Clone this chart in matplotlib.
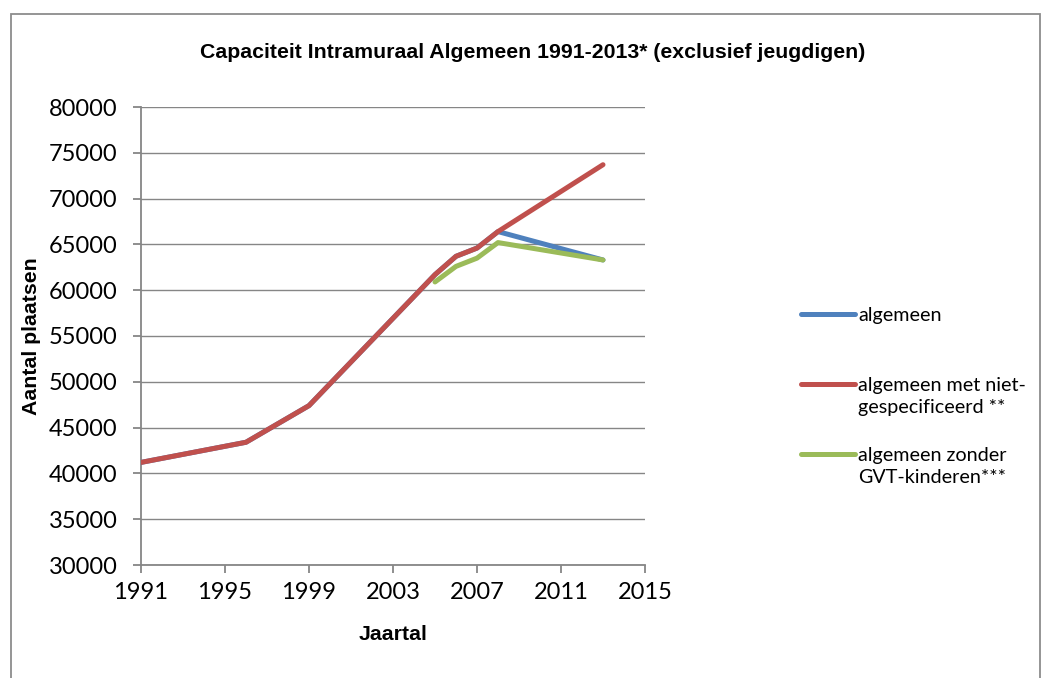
import matplotlib
matplotlib.use("Agg")
import matplotlib.pyplot as plt
from matplotlib.lines import Line2D
from matplotlib.patches import Rectangle

# ---- data ----
years_all = [1991, 1996, 1999, 2005, 2006, 2007, 2008, 2013]
algemeen = [41200, 43400, 47400, 61700, 63700, 64600, 66400, 63300]
algemeen_niet_spec = [41200, 43400, 47400, 61700, 63700, 64600, 66400, 73700]
years_gvt = [2005, 2006, 2007, 2008, 2013]
algemeen_zonder_gvt = [60900, 62600, 63500, 65200, 63300]

series_labels = ["algemeen", "algemeen met niet-\ngespecificeerd **",
                 "algemeen zonder\nGVT-kinderen***"]
colors = ["#4F81BD", "#C0504D", "#9BBB59"]
x_ticks = [1991, 1995, 1999, 2003, 2007, 2011, 2015]
y_ticks = list(range(30000, 80001, 5000))

W, H = 1043, 678
fig = plt.figure(figsize=(W / 100, H / 100), dpi=100)
fig.patch.set_facecolor("white")

# outer border
fig.add_artist(Rectangle((11 / W, -0.05), (1040 - 11) / W, (H - 14) / H + 0.05,
                         transform=fig.transFigure, fill=False,
                         edgecolor="#8C8C8C", linewidth=1.3))

ax = fig.add_axes([141 / W, (H - 565) / H, 504 / W, 458 / H])
ax.plot(years_all, algemeen, color=colors[0], lw=3.6, solid_capstyle="round",
        solid_joinstyle="round", zorder=3)
ax.plot(years_all, algemeen_niet_spec, color=colors[1], lw=3.6,
        solid_capstyle="round", solid_joinstyle="round", zorder=4)
ax.plot(years_gvt, algemeen_zonder_gvt, color=colors[2], lw=3.6,
        solid_capstyle="round", solid_joinstyle="round", zorder=5)

ax.set_xlim(1991, 2015)
ax.set_ylim(30000, 80000)
ax.set_xticks(x_ticks)
ax.set_yticks(y_ticks)
ax.grid(axis="y", color="#868686", lw=1.0)
ax.set_axisbelow(True)
for s in ["top", "right"]:
    ax.spines[s].set_visible(False)
for s in ["left", "bottom"]:
    ax.spines[s].set_color("#868686")
    ax.spines[s].set_linewidth(1.3)
ax.tick_params(axis="both", direction="out", length=6, width=1.3,
               color="#868686", labelcolor="black")
ax.tick_params(axis="y", pad=11)
ax.tick_params(axis="x", pad=6)
for lab in ax.get_xticklabels() + ax.get_yticklabels():
    lab.set_fontfamily("Lato")
    lab.set_fontsize(17)

fig.text(533 / W, 1 - 52 / H,
         "Capaciteit Intramuraal Algemeen 1991-2013* (exclusief jeugdigen)",
         ha="center", va="center", family="Liberation Sans",
         fontweight="bold", fontsize=15.3)
fig.text(32 / W, 1 - 336 / H, "Aantal plaatsen", rotation=90, ha="center",
         va="center", family="Liberation Sans", fontweight="bold", fontsize=15.3)
fig.text(393 / W, 1 - 634 / H, "Jaartal", ha="center", va="center",
         family="Liberation Sans", fontweight="bold", fontsize=15.3)

# legend
leg_y = [314, 384, 454]
for c, lbl, y in zip(colors, series_labels, leg_y):
    fig.add_artist(Line2D([801 / W, 855 / W], [1 - y / H, 1 - y / H],
                          transform=fig.transFigure, color=c, lw=3.6,
                          solid_capstyle="round"))
    for i, line in enumerate(lbl.split("\n")):
        fig.text(858 / W, 1 - (y + 2 + i * 21.5) / H, line, ha="left",
                 va="center", family="Lato", fontsize=14.2)

fig.savefig("out.png", dpi=100)
